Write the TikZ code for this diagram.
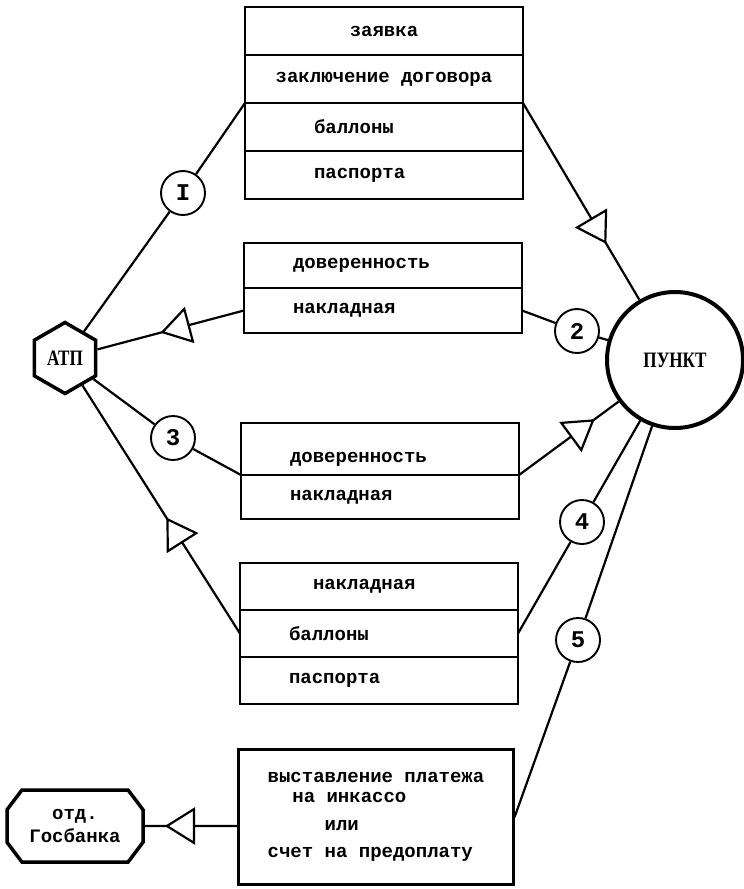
\documentclass[tikz,border=0pt]{standalone}
\usepackage{fontspec}
\setmainfont{Liberation Serif}
\newfontfamily\typefont{Liberation Mono}
\newfontfamily\stampfont[FakeStretch=0.78]{Liberation Serif}
\usepackage{tikz}
\usetikzlibrary{positioning,shapes.geometric,shapes.misc}

\begin{document}
\begin{tikzpicture}[x=1pt,y=-1pt,line width=2.2pt,
  every node/.style={font=\typefont\bfseries\fontsize{19}{23}\selectfont},
  cell/.style={draw,minimum width=278pt,minimum height=#1,inner sep=0pt,outer sep=0pt},
  cell/.default=48pt,
  indent/.style={text width=#1,align=left},
  num/.style={draw,circle,minimum size=44pt,inner sep=0pt,line width=1.9pt,font=\typefont\bfseries\fontsize{24}{28}\selectfont},
  party/.style={draw,inner sep=0pt,font=\stampfont\bfseries\fontsize{22}{26}\selectfont},
  flowtip/.style={draw,fill=white,isosceles triangle,isosceles triangle apex angle=64,minimum height=27pt,inner sep=0pt,sloped,allow upside down}]
\useasboundingbox (0,0) rectangle (744,889);

% the two parties
\node[party,regular polygon,regular polygon sides=6,shape border rotate=30,minimum size=71pt,line width=3.5pt] (atp) at (65,358) {АТП};
\node[party,circle,minimum size=136pt,line width=4pt] (punkt) at (675,360) {ПУНКТ};

% document stacks
\node[cell,anchor=north] (b1a) at (384,7) {заявка};
\node[cell,below=0pt of b1a] (b1b) {заключение договора};
\node[cell,indent=140pt,below=0pt of b1b] (b1c) {баллоны};
\node[cell,indent=140pt,below=0pt of b1c] (b1d) {паспорта};

\node[cell=45pt,indent=180pt,anchor=north] (b2a) at (383,243) {доверенность};
\node[cell=45pt,indent=180pt,below=0pt of b2a] (b2b) {накладная};

\node[cell=52pt,indent=180pt,text height=30pt,anchor=north] (b3a) at (380,423) {доверенность};
\node[cell=44pt,indent=180pt,below=0pt of b3a] (b3b) {накладная};

\node[cell=47pt,indent=132pt,anchor=north] (b4a) at (379,563) {накладная};
\node[cell=47pt,indent=180pt,below=0pt of b4a] (b4b) {баллоны};
\node[cell=47pt,indent=180pt,below=0pt of b4b] (b4c) {паспорта};

\node[draw,minimum width=275pt,minimum height=135pt,inner sep=0pt,align=left] (b5) at (376,817) {выставление платежа\\[-3pt]\hspace*{1.3em}на инкассо\\[5pt]\hspace*{3em}или\\[4pt]счет на предоплату};

\node[draw,chamfered rectangle,chamfered rectangle angle=37,chamfered rectangle xsep=26pt,minimum width=136pt,minimum height=72pt,inner sep=0pt,line width=3.5pt,align=center] (gosb) at (75,826) {отд.\\Госбанка};

% stage numbers
\node[num] (c1) at (183,193) {I};
\node[num] (c2) at (577,331) {2};
\node[num] (c3) at (173,438) {3};
\node[num] (c4) at (582,522) {4};
\node[num] (c5) at (578,640) {5};

% 1
\draw (atp) -- (c1) -- (b1c.north west);
\draw (b1c.north east) -- node[flowtip,pos=0.63] {} (punkt);
% 2
\draw (punkt) -- (c2) -- (b2b.east);
\draw (b2b.west) -- node[flowtip,pos=0.44] {} (atp);
% 3
\draw (atp) -- (c3) -- (b3b.north west);
\draw (b3b.north east) -- node[flowtip,pos=0.6] {} (punkt);
% 4
\draw (punkt) -- (c4) -- (b4b.east);
\draw (b4b.west) -- node[flowtip,pos=0.4] {} (atp);
% 5
\draw (punkt) -- (c5) -- (b5.east);
\draw (gosb -| b5.west) -- node[flowtip,pos=0.57] {} (gosb);
\end{tikzpicture}
\end{document}
